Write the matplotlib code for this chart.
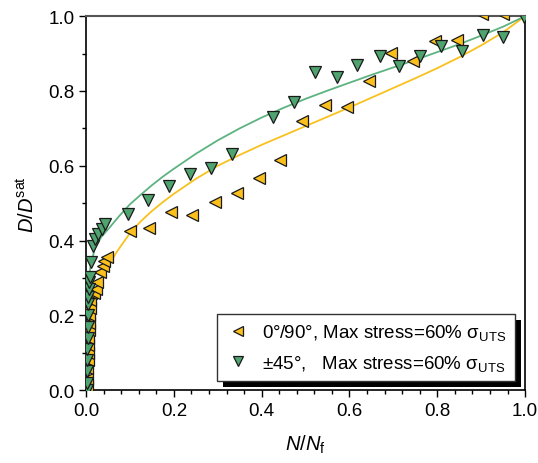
import matplotlib
matplotlib.use("Agg")
import matplotlib.pyplot as plt
from matplotlib.patches import Rectangle
from matplotlib.ticker import MultipleLocator, FormatStrFormatter

plt.rcParams['font.family'] = ['Liberation Sans', 'DejaVu Sans']
plt.rcParams['mathtext.fontset'] = 'custom'
plt.rcParams['mathtext.rm'] = 'Liberation Sans'
plt.rcParams['mathtext.it'] = 'Liberation Sans:italic'

# ---- data: 0/90 series (yellow, left triangles) ----
x_090 = [0.002, 0.003, 0.003, 0.004, 0.004, 0.005, 0.005, 0.006, 0.006, 0.007,
         0.008, 0.010, 0.012, 0.018, 0.022, 0.025, 0.032, 0.038, 0.041, 0.048,
         0.100, 0.144, 0.194, 0.241, 0.294, 0.344, 0.394, 0.442, 0.492, 0.544,
         0.595, 0.645, 0.695, 0.745, 0.795, 0.845, 0.902, 0.950]
y_090 = [0.01, 0.03, 0.06, 0.08, 0.10, 0.12, 0.14, 0.16, 0.18, 0.20,
         0.22, 0.24, 0.26, 0.26, 0.27, 0.29, 0.316, 0.332, 0.345, 0.356,
         0.425, 0.433, 0.476, 0.468, 0.503, 0.527, 0.567, 0.615, 0.719, 0.762,
         0.757, 0.826, 0.901, 0.880, 0.933, 0.936, 1.005, 1.005]

# ---- data: +-45 series (green, down triangles) ----
x_45 = [0.002, 0.002, 0.003, 0.003, 0.003, 0.004, 0.004, 0.004, 0.005, 0.005,
        0.006, 0.007, 0.009, 0.011, 0.016, 0.021, 0.027, 0.036, 0.043,
        0.096, 0.141, 0.189, 0.237, 0.285, 0.333, 0.426, 0.474, 0.522, 0.572,
        0.617, 0.670, 0.713, 0.761, 0.809, 0.856, 0.904, 0.950, 0.997]
y_45 = [0.00, 0.02, 0.05, 0.08, 0.11, 0.14, 0.17, 0.20, 0.23, 0.25,
        0.27, 0.29, 0.302, 0.342, 0.385, 0.404, 0.417, 0.430, 0.444,
        0.471, 0.508, 0.545, 0.578, 0.594, 0.631, 0.730, 0.770, 0.850, 0.837,
        0.869, 0.893, 0.866, 0.893, 0.920, 0.906, 0.949, 0.944, 0.997]

# ---- fitted curves ----
fit_x_090 = [0, 0.001, 0.004, 0.008, 0.013, 0.025, 0.047, 0.07, 0.1, 0.125, 0.15,
             0.175, 0.2, 0.25, 0.3, 0.35, 0.4, 0.45, 0.5, 0.55, 0.6, 0.65, 0.7,
             0.75, 0.8, 0.85, 0.9, 0.95, 1.0]
fit_y_090 = [0, 0.10, 0.17, 0.20, 0.22, 0.27, 0.325, 0.37, 0.42, 0.452, 0.479,
             0.503, 0.525, 0.565, 0.600, 0.629, 0.656, 0.681, 0.706, 0.731, 0.756,
             0.782, 0.808, 0.834, 0.861, 0.890, 0.922, 0.957, 1.0]
fit_x_45 = [0, 0.0005, 0.002, 0.005, 0.01, 0.02, 0.035, 0.05, 0.075, 0.1, 0.125,
            0.15, 0.175, 0.2, 0.25, 0.3, 0.35, 0.4, 0.45, 0.5, 0.55, 0.6, 0.65,
            0.7, 0.75, 0.8, 0.85, 0.9, 0.95, 1.0]
fit_y_45 = [0, 0.15, 0.24, 0.29, 0.33, 0.38, 0.41, 0.43, 0.465, 0.497, 0.523,
            0.548, 0.571, 0.592, 0.632, 0.668, 0.700, 0.729, 0.755, 0.779, 0.801,
            0.822, 0.843, 0.863, 0.883, 0.904, 0.925, 0.948, 0.972, 1.0]

labels = [r'0°/90°, Max stress=60% σ$_{\mathrm{UTS}}$',
          r'±45°,   Max stress=60% σ$_{\mathrm{UTS}}$']

c_yel = '#FBC01B'
c_yel_line = '#F9C11E'
c_grn = '#4FA36F'
c_grn_line = '#5DB380'

fig = plt.figure(figsize=(5.38, 4.64), dpi=100)
ax = fig.add_axes([0.160, 0.157, 0.816, 0.806])

ax.plot(fit_x_090, fit_y_090, color=c_yel_line, lw=1.3, zorder=2)
ax.plot(fit_x_45, fit_y_45, color=c_grn_line, lw=1.3, zorder=2)

h1, = ax.plot(x_090, y_090, ls='none', marker='<', ms=8.5, mfc=c_yel, mec='#1a1a1a',
              mew=0.9, zorder=3, label=labels[0])
h2, = ax.plot(x_45, y_45, ls='none', marker='v', ms=8.5, mfc=c_grn, mec='#1a1a1a',
              mew=0.9, zorder=3, label=labels[1])

ax.set_xlim(0, 1)
ax.set_ylim(0, 1)
ax.xaxis.set_major_locator(MultipleLocator(0.2))
ax.xaxis.set_minor_locator(MultipleLocator(0.04))
ax.yaxis.set_major_locator(MultipleLocator(0.2))
ax.yaxis.set_minor_locator(MultipleLocator(0.1))
ax.xaxis.set_major_formatter(FormatStrFormatter('%.1f'))
ax.yaxis.set_major_formatter(FormatStrFormatter('%.1f'))
ax.tick_params(which='major', direction='out', length=5, width=1, labelsize=13.5, colors='k')
ax.tick_params(which='minor', direction='out', length=3, width=1)
for s in ['left', 'bottom', 'right']:
    ax.spines[s].set_color('k')
    ax.spines[s].set_linewidth(1.2)
ax.spines['top'].set_color('#555555')
ax.spines['top'].set_linewidth(1.5)

ax.set_xlabel(r'$N$/$N_{\mathrm{f}}$', fontsize=14.5, labelpad=10)
ax.set_ylabel(r'$D$/$D^{\mathrm{sat}}$', fontsize=14.5, labelpad=7)

leg = ax.legend(handles=[h1, h2], loc='upper left', bbox_to_anchor=(0.298, 0.204),
                borderaxespad=0, fontsize=13.5, frameon=True, fancybox=False,
                edgecolor='#333333', framealpha=1, handletextpad=0.55,
                labelspacing=0.55, borderpad=0.45, handlelength=1.4, markerscale=0.9)
leg.get_frame().set_linewidth(1.0)
leg.set_zorder(10)

fig.canvas.draw()
bb = leg.get_window_extent()
inv = fig.transFigure.inverted()
(x0, y0), (x1, y1) = inv.transform([[bb.x0 + 6, bb.y0 - 6], [bb.x1 + 6, bb.y1 - 6]])
shadow = Rectangle((x0, y0), x1 - x0, y1 - y0, transform=fig.transFigure,
                   facecolor='k', edgecolor='none', zorder=9, clip_on=False)
ax.add_patch(shadow)

fig.savefig('out.png', dpi=100)
